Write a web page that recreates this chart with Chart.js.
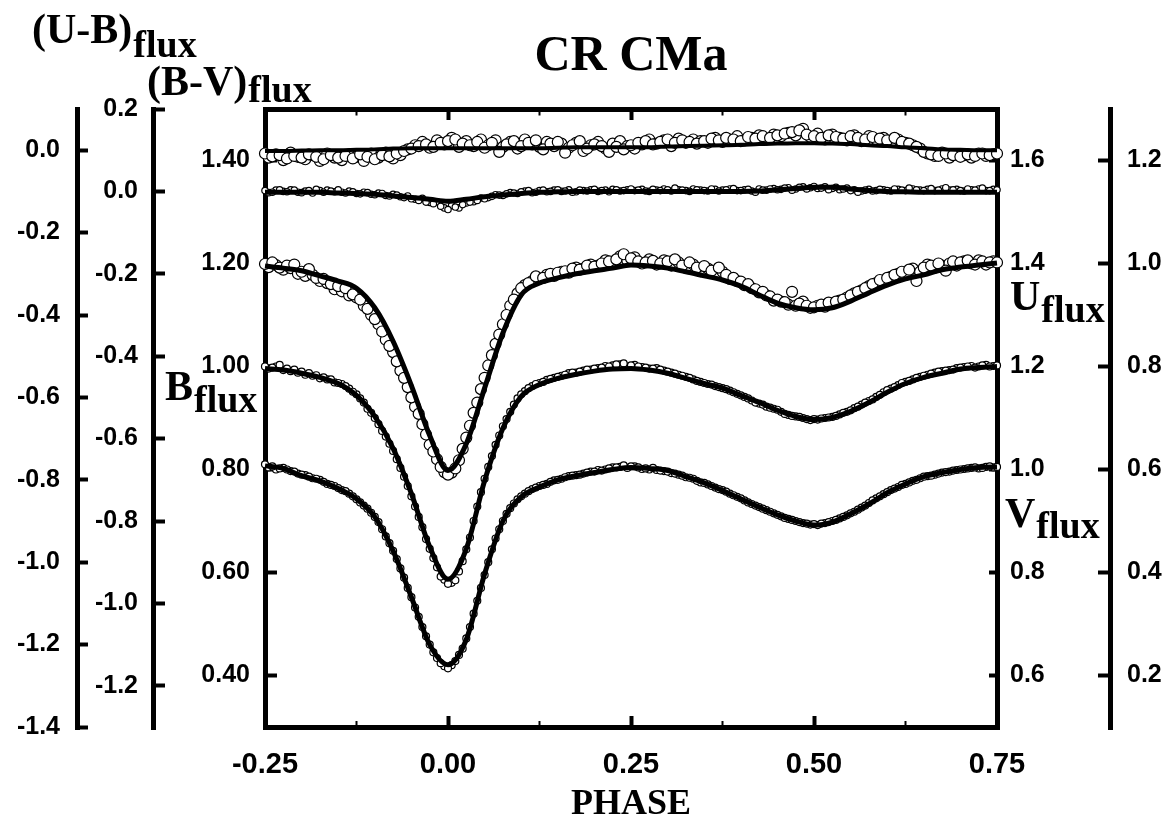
<!DOCTYPE html>
<html>
<head>
<meta charset="utf-8">
<script src="https://cdn.jsdelivr.net/npm/chart.js@4.4.1/dist/chart.umd.min.js"></script>
<style>
  html, body { margin: 0; padding: 0; background: #fff; }
  #wrap { width: 1173px; height: 830px; }
</style>
</head>
<body>
<div id="wrap"><canvas id="c" width="1173" height="830"></canvas></div>
<script>
// ---------------- DATA ----------------
const OBS_PHASE = [-0.25,-0.24,-0.23,-0.22,-0.21,-0.20,-0.19,-0.18,-0.17,-0.16,-0.15,-0.14,-0.13,-0.12,-0.11,-0.10,-0.09,-0.08,-0.07,-0.06,-0.05,-0.04,-0.03,-0.02,-0.01,0.00,0.01,0.02,0.03,0.04,0.05,0.06,0.07,0.08,0.09,0.10,0.11,0.12,0.13,0.14,0.15,0.16,0.17,0.18,0.19,0.20,0.21,0.22,0.23,0.24,0.25,0.26,0.27,0.28,0.29,0.30,0.31,0.32,0.33,0.34,0.35,0.36,0.37,0.38,0.39,0.40,0.41,0.42,0.43,0.44,0.45,0.46,0.47,0.48,0.49,0.50,0.51,0.52,0.53,0.54,0.55,0.56,0.57,0.58,0.59,0.60,0.61,0.62,0.63,0.64,0.65,0.66,0.67,0.68,0.69,0.70,0.71,0.72,0.73,0.74,0.75];
const OBS2_PHASE = [-0.245,-0.235,-0.225,-0.215,-0.205,-0.195,-0.185,-0.175,-0.165,-0.155,-0.145,-0.135,-0.125,-0.115,-0.105,-0.095,-0.085,-0.075,-0.065,-0.055,-0.045,-0.035,-0.025,-0.015,-0.005,0.005,0.015,0.025,0.035,0.045,0.055,0.065,0.075,0.085,0.095,0.105,0.115,0.125,0.135,0.145,0.155,0.165,0.175,0.185,0.195,0.205,0.215,0.225,0.235,0.245,0.255,0.265,0.275,0.285,0.295,0.305,0.315,0.325,0.335,0.345,0.355,0.365,0.375,0.385,0.395,0.405,0.415,0.425,0.435,0.445,0.455,0.465,0.475,0.485,0.495,0.505,0.515,0.525,0.535,0.545,0.555,0.565,0.575,0.585,0.595,0.605,0.615,0.625,0.635,0.645,0.655,0.665,0.675,0.685,0.695,0.705,0.715,0.725,0.735,0.745];

const MODEL_PHASE = [-0.25,-0.225,-0.2,-0.175,-0.15,-0.125,-0.1,-0.075,-0.05,-0.025,0,0.025,0.05,0.075,0.1,0.125,0.15,0.175,0.2,0.225,0.25,0.275,0.3,0.325,0.35,0.375,0.4,0.425,0.45,0.475,0.5,0.525,0.55,0.575,0.6,0.625,0.65,0.675,0.7,0.725,0.75];

// (U-B) flux colour index
const UB_OBS = [-0.008,-0.015,-0.012,-0.020,-0.014,-0.018,-0.010,-0.016,-0.022,-0.012,-0.018,-0.014,-0.020,-0.010,-0.016,-0.022,-0.012,-0.015,-0.008,-0.002,0.004,0.010,0.014,0.008,0.018,0.022,0.026,0.016,0.012,0.020,0.006,0.018,-0.004,0.014,0.022,0.010,0.018,0.024,0.002,0.016,0.020,-0.006,0.012,0.022,0.004,0.014,0.010,-0.004,0.008,0.002,0.012,0.018,0.022,0.014,0.020,0.026,0.018,0.024,0.020,0.016,0.022,0.028,0.024,0.030,0.026,0.022,0.032,0.028,0.034,0.030,0.036,0.040,0.044,0.048,0.038,0.034,0.030,0.036,0.032,0.028,0.034,0.030,0.026,0.032,0.028,0.024,0.030,0.020,0.016,0.008,-0.004,-0.010,-0.014,-0.008,-0.012,-0.016,-0.010,-0.014,-0.008,-0.012,-0.008];
const UB_OBS2 = [-0.018,-0.010,-0.024,-0.006,-0.016,-0.022,-0.012,-0.026,-0.008,-0.018,
  -0.024,-0.010,-0.016,-0.026,-0.008,-0.018,-0.006,-0.020,-0.012,0.002,
  0.012,0.020,0.006,0.024,0.014,0.030,0.008,0.022,0.010,0.026,
  0.012,0.024,0.008,0.020,0.004,0.026,0.014,0.008,0.020,0.010,
  0.016,0.006,0.018,-0.002,0.012,0.020,0.004,0.016,0.022,0.010,
  0.004,0.014,0.026,0.016,0.024,0.010,0.028,0.018,0.026,0.022,
  0.018,0.030,0.020,0.026,0.034,0.024,0.030,0.036,0.026,0.038,
  0.034,0.042,0.036,0.052,0.032,0.040,0.026,0.038,0.030,0.024,
  0.036,0.022,0.034,0.026,0.030,0.020,0.026,0.018,0.012,0.004,
  -0.008,-0.014,-0.006,-0.018,-0.010,-0.012,-0.018,-0.008,-0.014,-0.010];
const UB_MODEL = [-0.002,-0.002,-0.001,0.000,0.000,0.001,0.002,0.004,0.005,0.005,0.005,0.005,0.005,0.005,0.005,0.005,0.006,0.007,0.007,0.007,0.007,0.007,0.009,0.010,0.011,0.012,0.013,0.015,0.016,0.017,0.017,0.016,0.015,0.012,0.010,0.007,0.005,0.002,0.001,0.000,0.000];

// (B-V) flux colour index
const BV_OBS = [0.002,-0.002,0.004,-0.001,0.003,-0.003,0.002,0.005,-0.002,0.001,0.004,-0.004,-0.001,-0.006,-0.003,-0.008,-0.005,-0.011,-0.009,-0.015,-0.018,-0.022,-0.026,-0.030,-0.036,-0.044,-0.038,-0.032,-0.026,-0.022,-0.018,-0.012,-0.009,-0.006,-0.004,-0.001,0.002,-0.002,0.003,0.000,0.004,0.001,-0.002,0.003,0.001,0.005,0.002,-0.001,0.004,0.002,0.006,0.003,0.001,0.005,0.002,0.004,0.008,0.003,0.000,0.004,0.002,0.006,0.001,0.004,0.007,0.002,0.005,-0.002,0.003,0.006,0.004,0.008,0.003,0.010,0.006,0.012,0.008,0.004,0.010,0.006,0.002,-0.002,0.003,0.001,0.005,0.002,0.006,0.003,0.008,0.004,0.002,0.007,0.003,0.009,0.004,0.002,0.006,0.003,0.008,0.002,0.004];
const BV_OBS2 = [-0.003,0.003,0.000,0.004,-0.002,0.001,-0.004,0.002,0.003,-0.001,
  -0.002,0.001,-0.005,-0.002,-0.007,-0.004,-0.010,-0.007,-0.013,-0.011,
  -0.019,-0.017,-0.027,-0.025,-0.040,-0.034,-0.040,-0.028,-0.025,-0.016,
  -0.015,-0.008,-0.010,-0.003,-0.005,0.001,-0.003,0.002,-0.001,0.003,
  0.000,0.004,-0.001,0.002,0.004,0.000,0.003,0.005,0.001,0.004,
  0.002,0.005,0.000,0.003,0.006,0.001,0.004,0.002,0.006,0.003,
  0.001,0.005,0.003,0.006,0.002,0.004,0.001,0.006,0.003,0.007,
  0.005,0.009,0.006,0.011,0.009,0.007,0.011,0.007,0.004,0.008,
  0.004,0.001,0.005,0.002,0.004,0.001,0.005,0.002,0.006,0.003,
  0.005,0.002,0.006,0.003,0.005,0.001,0.004,0.006,0.002,0.005];
const BV_MODEL = [-0.002,-0.002,-0.002,-0.002,-0.004,-0.005,-0.007,-0.011,-0.015,-0.019,-0.024,-0.019,-0.013,-0.009,-0.005,-0.002,-0.001,0.000,0.000,0.000,0.000,0.000,0.000,0.000,0.000,0.000,0.000,0.001,0.004,0.007,0.010,0.010,0.006,0.002,0.000,-0.001,-0.002,-0.002,-0.002,-0.002,-0.002];

// U flux (right inner axis)
const U_OBS = [1.399,1.402,1.392,1.396,1.398,1.384,1.389,1.372,1.370,1.360,1.356,1.352,1.340,1.330,1.312,1.292,1.268,1.240,1.210,1.178,1.140,1.108,1.068,1.035,1.005,0.990,1.002,1.040,1.085,1.130,1.178,1.222,1.262,1.300,1.330,1.352,1.362,1.375,1.372,1.380,1.382,1.385,1.390,1.388,1.396,1.394,1.400,1.404,1.408,1.418,1.410,1.404,1.402,1.405,1.400,1.404,1.408,1.396,1.402,1.392,1.395,1.386,1.392,1.378,1.372,1.365,1.360,1.350,1.345,1.336,1.330,1.325,1.345,1.322,1.318,1.315,1.320,1.324,1.326,1.330,1.338,1.345,1.352,1.360,1.368,1.372,1.378,1.384,1.388,1.366,1.392,1.396,1.400,1.386,1.404,1.402,1.406,1.398,1.404,1.402,1.402];
const U_OBS2 = [1.393,1.397,1.388,1.391,1.380,1.376,1.378,1.366,1.362,1.350,
  1.346,1.338,1.334,1.318,1.300,1.282,1.252,1.228,1.192,1.160,
  1.122,1.088,1.048,1.020,0.995,0.994,1.018,1.062,1.110,1.156,
  1.202,1.244,1.282,1.318,1.342,1.358,1.366,1.370,1.378,1.376,
  1.384,1.382,1.392,1.390,1.398,1.396,1.406,1.400,1.414,1.406,
  1.412,1.400,1.408,1.398,1.406,1.396,1.402,1.392,1.398,1.385,
  1.390,1.380,1.384,1.370,1.366,1.358,1.352,1.344,1.338,1.328,
  1.326,1.320,1.318,1.326,1.314,1.318,1.316,1.322,1.328,1.334,
  1.342,1.348,1.356,1.362,1.366,1.374,1.380,1.378,1.390,1.384,
  1.398,1.392,1.396,1.400,1.396,1.404,1.400,1.406,1.398,1.404];
const U_MODEL = [1.395,1.391,1.386,1.376,1.366,1.352,1.314,1.249,1.163,1.066,0.998,1.050,1.158,1.265,1.339,1.362,1.372,1.380,1.386,1.391,1.397,1.395,1.391,1.384,1.376,1.368,1.356,1.339,1.323,1.314,1.310,1.314,1.327,1.343,1.358,1.370,1.378,1.388,1.393,1.397,1.401];

// B flux (left main axis)
const B_OBS = [1.000,0.998,1.003,0.996,0.994,0.990,0.987,0.983,0.979,0.975,0.968,0.962,0.951,0.938,0.918,0.900,0.875,0.850,0.820,0.786,0.748,0.708,0.665,0.628,0.592,0.578,0.585,0.622,0.668,0.728,0.782,0.826,0.866,0.898,0.926,0.946,0.958,0.966,0.970,0.976,0.980,0.984,0.988,0.990,0.994,0.996,0.998,1.000,1.004,1.006,1.002,1.000,0.998,0.996,0.994,0.990,0.986,0.982,0.978,0.972,0.968,0.965,0.960,0.956,0.950,0.944,0.938,0.930,0.926,0.920,0.916,0.908,0.904,0.902,0.898,0.898,0.899,0.901,0.904,0.910,0.915,0.922,0.930,0.936,0.945,0.954,0.960,0.968,0.972,0.978,0.982,0.986,0.990,0.992,0.994,0.998,1.000,0.998,1.002,1.000,1.002];
const B_OBS2 = [0.996,1.000,0.993,0.991,0.988,0.984,0.982,0.977,0.975,0.969,
  0.966,0.957,0.946,0.930,0.910,0.888,0.864,0.836,0.803,0.768,
  0.728,0.688,0.646,0.610,0.586,0.580,0.602,0.645,0.700,0.756,
  0.805,0.848,0.884,0.912,0.938,0.952,0.962,0.968,0.974,0.978,
  0.982,0.987,0.988,0.992,0.994,0.997,1.001,1.002,1.004,1.000,
  1.003,0.999,0.996,0.997,0.992,0.988,0.984,0.980,0.975,0.970,
  0.966,0.962,0.958,0.953,0.947,0.941,0.934,0.928,0.922,0.918,
  0.912,0.906,0.903,0.900,0.896,0.897,0.900,0.902,0.907,0.912,
  0.919,0.926,0.933,0.941,0.950,0.957,0.964,0.970,0.975,0.980,
  0.984,0.988,0.991,0.993,0.997,0.999,1.001,1.000,1.003,1.001];
const B_MODEL = [0.996,0.993,0.987,0.979,0.967,0.944,0.903,0.841,0.753,0.650,0.587,0.646,0.778,0.880,0.942,0.965,0.977,0.985,0.991,0.995,0.996,0.993,0.987,0.977,0.967,0.958,0.944,0.930,0.915,0.903,0.897,0.901,0.913,0.930,0.950,0.967,0.979,0.987,0.995,0.998,1.000];

// V flux (right inner axis)
const V_OBS = [1.010,1.006,1.002,1.000,0.996,0.990,0.986,0.982,0.976,0.970,0.964,0.958,0.948,0.936,0.924,0.908,0.884,0.857,0.826,0.790,0.752,0.714,0.676,0.645,0.624,0.614,0.628,0.652,0.694,0.745,0.795,0.845,0.884,0.914,0.934,0.948,0.958,0.965,0.970,0.976,0.980,0.985,0.988,0.990,0.994,0.996,0.998,1.002,1.004,1.008,1.006,1.004,1.002,1.003,0.998,0.996,0.992,0.988,0.984,0.978,0.974,0.968,0.962,0.957,0.950,0.944,0.936,0.930,0.924,0.918,0.912,0.906,0.902,0.898,0.895,0.894,0.895,0.898,0.902,0.908,0.915,0.922,0.930,0.940,0.948,0.956,0.963,0.970,0.975,0.980,0.986,0.988,0.992,0.995,0.998,1.000,1.002,1.004,1.003,1.006,1.005];
const V_OBS2 = [1.004,1.000,1.003,0.997,0.992,0.989,0.983,0.980,0.972,0.968,
  0.960,0.953,0.942,0.930,0.916,0.898,0.870,0.842,0.808,0.770,
  0.732,0.694,0.660,0.634,0.618,0.620,0.640,0.672,0.720,0.770,
  0.820,0.866,0.900,0.925,0.942,0.953,0.962,0.968,0.972,0.979,
  0.982,0.987,0.989,0.992,0.996,0.999,1.000,1.004,1.005,1.003,
  1.006,1.001,1.000,0.999,0.997,0.993,0.990,0.985,0.982,0.975,
  0.971,0.965,0.960,0.953,0.947,0.940,0.933,0.927,0.921,0.915,
  0.909,0.904,0.900,0.896,0.893,0.892,0.896,0.900,0.905,0.911,
  0.918,0.926,0.935,0.944,0.952,0.960,0.966,0.972,0.978,0.983,
  0.987,0.990,0.994,0.996,0.999,1.001,1.003,1.002,1.005,1.004];
const V_MODEL = [1.007,1.002,0.988,0.978,0.963,0.943,0.908,0.842,0.752,0.660,0.621,0.670,0.797,0.900,0.947,0.966,0.980,0.988,0.994,1.000,1.004,1.002,0.998,0.986,0.974,0.959,0.943,0.927,0.912,0.900,0.892,0.898,0.914,0.933,0.955,0.972,0.986,0.994,1.000,1.004,1.005];

// Tick values and labels
const X_TICKS  = [-0.25,-0.125,0,0.125,0.25,0.375,0.5,0.625,0.75];
const X_LABELS = ['-0.25','','0.00','','0.25','','0.50','','0.75'];
const UB_TICKS  = [-1.4,-1.2,-1.0,-0.8,-0.6,-0.4,-0.2,0.0];
const UB_LABELS = ['-1.4','-1.2','-1.0','-0.8','-0.6','-0.4','-0.2','0.0'];
const BV_TICKS  = [-1.2,-1.0,-0.8,-0.6,-0.4,-0.2,0.0,0.2];
const BV_LABELS = ['-1.2','-1.0','-0.8','-0.6','-0.4','-0.2','0.0','0.2'];
const B_TICKS  = [0.4,0.6,0.8,1.0,1.2,1.4];
const B_LABELS = ['0.40','0.60','0.80','1.00','1.20','1.40'];
const U_TICKS  = [0.6,0.8,1.0,1.2,1.4,1.6];
const U_LABELS = ['0.6','0.8','1.0','1.2','1.4','1.6'];
const V_TICKS  = [0.2,0.4,0.6,0.8,1.0,1.2];
const V_LABELS = ['0.2','0.4','0.6','0.8','1.0','1.2'];

// ---------------- CHART ----------------
const SERIF = '"Liberation Serif", "Times New Roman", serif';
const SANS = '"Liberation Sans", Arial, sans-serif';
const TICK_FONT = {family: SANS, size: 25, weight: 'bold', lineHeight: 1.2};

const pts = (xs, ys) => xs.map((x, i) => ({x: x, y: ys[i]}));

function obsSet(data, yAxisID, r) {
  return {type: 'scatter', data: data, yAxisID: yAxisID, xAxisID: 'x',
    pointRadius: r, pointHoverRadius: r, pointBackgroundColor: '#fff',
    pointBorderColor: '#000', pointBorderWidth: 1.2, showLine: false, order: 1, clip: false};
}
function modelSet(data, yAxisID, w) {
  return {type: 'line', data: data, yAxisID: yAxisID, xAxisID: 'x',
    borderColor: '#000', borderWidth: w, pointRadius: 0, fill: false,
    tension: 0.4, cubicInterpolationMode: 'monotone', order: 0, clip: false};
}

function yScale(pos, weight, min, max, ticksArr, labelsArr, width, tl, pad) {
  return {
    type: 'linear', position: pos, weight: weight, min: min, max: max,
    afterBuildTicks: s => { s.ticks = ticksArr.map(v => ({value: v})); },
    afterFit: s => { s.width = width; },
    border: {display: true, color: '#000', width: 5},
    grid: {display: true, drawOnChartArea: false, drawTicks: true, tickLength: tl,
           tickWidth: 4, tickColor: '#000', color: '#000', lineWidth: 5},
    ticks: {autoSkip: false, padding: pad, color: '#000', font: TICK_FONT,
            callback: (v, i) => labelsArr[i]}
  };
}

const axisLabels = {
  id: 'axisLabels',
  afterDraw(chart) {
    const ctx = chart.ctx;
    ctx.save();
    ctx.fillStyle = '#000';
    ctx.textAlign = 'left';
    ctx.textBaseline = 'alphabetic';
    const draw = (main, sub, x, y, ySub) => {
      ctx.font = 'bold 42px ' + SERIF;
      ctx.fillText(main, x, y);
      const w = ctx.measureText(main).width;
      ctx.font = 'bold 38px ' + SERIF;
      ctx.fillText(sub, x + w + 1, ySub);
    };
    draw('(U-B)', 'flux', 32, 43, 57);
    draw('(B-V)', 'flux', 147, 95, 102);
    draw('B', 'flux', 165, 400, 412);
    draw('U', 'flux', 1010, 310, 322);
    draw('V', 'flux', 1005, 527, 538);
    ctx.restore();
  }
};

const xGrid = (topSide) => ({
  display: true, drawOnChartArea: false, drawTicks: true, tickLength: -11,
  color: '#000', lineWidth: 5, tickColor: '#000',
  tickWidth: c => (X_LABELS[c.index] ? 4 : 2),
  tickBorderDash: c => (X_LABELS[c.index] ? [] : (topSide ? [0, 4.5, 100, 0] : [9, 100]))
});

new Chart(document.getElementById('c'), {
  data: {
    datasets: [
      obsSet(pts(OBS_PHASE, UB_OBS), 'yUB', 5.5),
      obsSet(pts(OBS2_PHASE, UB_OBS2), 'yUB', 5.5),
      modelSet(pts(MODEL_PHASE, UB_MODEL), 'yUB', 4),
      obsSet(pts(OBS_PHASE, BV_OBS), 'yBV', 3.2),
      obsSet(pts(OBS2_PHASE, BV_OBS2), 'yBV', 3.2),
      modelSet(pts(MODEL_PHASE, BV_MODEL), 'yBV', 5),
      obsSet(pts(OBS_PHASE, U_OBS), 'yU', 5.5),
      obsSet(pts(OBS2_PHASE, U_OBS2), 'yU', 5.5),
      modelSet(pts(MODEL_PHASE, U_MODEL), 'yU', 5),
      obsSet(pts(OBS_PHASE, B_OBS), 'yB', 3.5),
      obsSet(pts(OBS2_PHASE, B_OBS2), 'yB', 3.5),
      modelSet(pts(MODEL_PHASE, B_MODEL), 'yB', 5),
      obsSet(pts(OBS_PHASE, V_OBS), 'yU', 3.5),
      obsSet(pts(OBS2_PHASE, V_OBS2), 'yU', 3.5),
      modelSet(pts(MODEL_PHASE, V_MODEL), 'yU', 5)
    ]
  },
  options: {
    responsive: false,
    devicePixelRatio: 1,
    animation: false,
    events: [],
    layout: {padding: 0},
    plugins: {
      legend: {display: false},
      tooltip: {enabled: false},
      title: {display: true, text: 'CR CMa', fullSize: false, color: '#000',
              font: {family: SERIF, size: 50, weight: 'bold', lineHeight: 1},
              padding: {top: 32, bottom: 27}}
    },
    scales: {
      x: {
        type: 'linear', position: 'bottom', min: -0.25, max: 0.75,
        afterBuildTicks: s => { s.ticks = X_TICKS.map(v => ({value: v})); },
        afterFit: s => { s.height = 103; },
        border: {display: true, color: '#000', width: 5},
        grid: xGrid(false),
        ticks: {autoSkip: false, maxRotation: 0, minRotation: 0, padding: 32, color: '#000',
                font: {family: SANS, size: 29, weight: 'bold', lineHeight: 1.2},
                callback: (v, i) => X_LABELS[i]},
        title: {display: true, text: 'PHASE', color: '#000',
                font: {family: SERIF, size: 36, weight: 'bold', lineHeight: 1},
                padding: {top: 0, bottom: 7}}
      },
      x2: {
        type: 'linear', position: 'top', min: -0.25, max: 0.75,
        afterBuildTicks: s => { s.ticks = X_TICKS.map(v => ({value: v})); },
        afterFit: s => { s.height = 0; },
        border: {display: true, color: '#000', width: 5},
        grid: xGrid(true),
        ticks: {display: false}
      },
      yUB: yScale('left', 2, -1.4, 0.1, UB_TICKS, UB_LABELS, 77, -11, 28),
      yBV: yScale('left', 1, -1.3, 0.2, BV_TICKS, BV_LABELS, 76, -12, 27),
      yB:  yScale('left', 0, 0.3, 1.5, B_TICKS, B_LABELS, 112, -12, 27),
      yU:  yScale('right', 0, 0.5, 1.7, U_TICKS, U_LABELS, 113, -8, 21),
      yV:  yScale('right', 1, 0.1, 1.3, V_TICKS, V_LABELS, 63, -12, 29)
    }
  },
  plugins: [axisLabels]
});
</script>
</body>
</html>
